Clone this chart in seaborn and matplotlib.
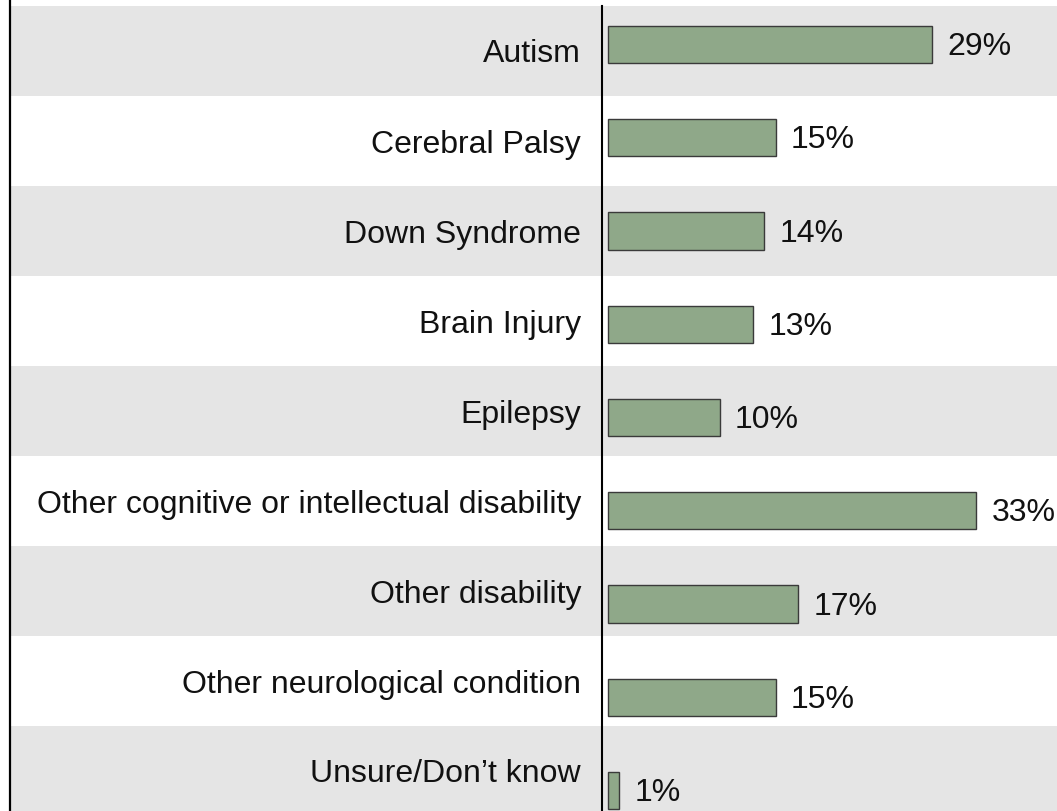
import matplotlib
matplotlib.use("Agg")
import pandas as pd
import seaborn as sns
import matplotlib.pyplot as plt

# === Data ===
conditions = [
    "Autism",
    "Cerebral Palsy",
    "Down Syndrome",
    "Brain Injury",
    "Epilepsy",
    "Other cognitive or intellectual disability",
    "Other disability",
    "Other neurological condition",
    "Unsure/Don\u2019t know",
]
percents = [29, 15, 14, 13, 10, 33, 17, 15, 1]
pct_labels = [f"{p}%" for p in percents]

df = pd.DataFrame({"condition": conditions, "percent": percents})

# === Style ===
sns.set_style("white")
plt.rcParams["font.family"] = ["Liberation Sans", "DejaVu Sans"]
FS = 23
BAR_COLOR = "#8fa889"
BAND_GREY = "#e5e5e5"

W, H = 1057, 811
fig = plt.figure(figsize=(W / 100, H / 100), dpi=100)

# background: alternating bands + category labels (pixel coords)
bg = fig.add_axes([0, 0, 1, 1])
bg.set_xlim(0, W)
bg.set_ylim(H, 0)
bg.axis("off")
band_top, band_h = 6, 90
for i, name in enumerate(conditions):
    y0 = band_top + band_h * i
    if i % 2 == 0:
        bg.fill_between([11, W], y0, y0 + band_h, color=BAND_GREY, lw=0)
    bg.text(581, y0 + band_h / 2 + 11.5, name, ha="right", va="baseline",
            fontsize=FS, color="#111111")
bg.plot([10, 10], [0, H], color="black", lw=1.6)

# bar axes
px_per_unit = 11.15
x0_px = 608.3
spine_px = 601.7
left_frac = spine_px / W
ax = fig.add_axes([left_frac, 0, 1 - left_frac, (H - band_top) / H])
ax.patch.set_alpha(0)

sns.barplot(data=df, y="condition", x="percent", orient="h", color=BAR_COLOR,
            saturation=1, width=0.4, edgecolor="#3a3a3a", linewidth=1.0, ax=ax)

ax.set_xlim(-(x0_px - spine_px) / px_per_unit, (W - x0_px) / px_per_unit)
bar_step = 93.25
first_center = 44.5
ax.set_ylim((H - first_center) / bar_step, (band_top - first_center) / bar_step)

# value labels, baseline just below bar centre
for i, (v, lab) in enumerate(zip(percents, pct_labels)):
    ax.annotate(lab, (v, i), xytext=(11, -7.6), textcoords="offset points",
                ha="left", va="baseline", fontsize=FS, color="#111111")

for s in ["top", "right", "bottom"]:
    ax.spines[s].set_visible(False)
ax.spines["left"].set_color("black")
ax.spines["left"].set_linewidth(1.5)
ax.set_xticks([])
ax.set_yticks([])
ax.set_xlabel("")
ax.set_ylabel("")

fig.savefig("out.png", dpi=100)
